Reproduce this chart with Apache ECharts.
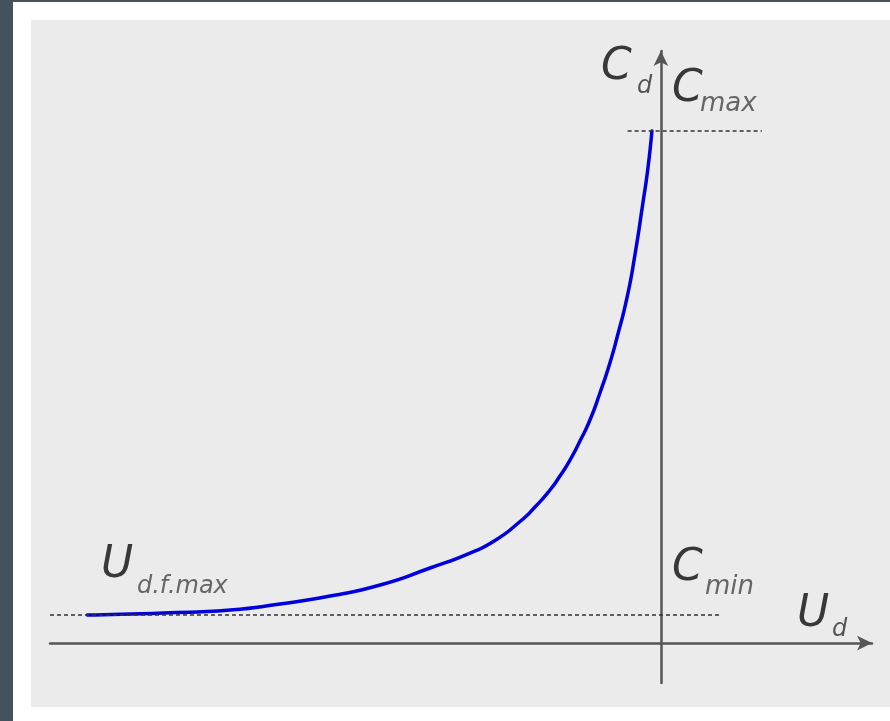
<!DOCTYPE html>
<html>
<head>
<meta charset="utf-8">
<script src="https://cdn.jsdelivr.net/npm/echarts@6/dist/echarts.min.js"></script>
<style>
  html, body { margin: 0; padding: 0; width: 890px; height: 721px; overflow: hidden; background: #44525d; }
  #sheet { position: absolute; left: 13px; top: 2px; width: 877px; height: 719px; background: #ffffff; }
  #panel { position: absolute; left: 31px; top: 20px; width: 859px; height: 687px; background: #ebebeb; }
  #chart { position: absolute; left: 0; top: 0; width: 890px; height: 721px; }
</style>
</head>
<body>
<div id="sheet"></div>
<div id="panel"></div>
<div id="chart"></div>
<script>
// Varactor capacitance C_d versus diode voltage U_d (arbitrary units)
const voltage = [-10.0, -8.676, -7.509, -6.638, -5.767, -4.895, -4.024, -3.328, -2.892, -2.456,
                 -2.195, -1.934, -1.760, -1.585, -1.411, -1.237, -1.063, -0.889, -0.749, -0.592,
                 -0.453, -0.314, -0.226, -0.157];
const capacitance = [5.47, 5.86, 6.45, 7.62, 9.18, 11.33, 14.65, 17.58, 20.02, 23.73,
                     26.56, 29.88, 32.62, 35.74, 39.45, 43.55, 48.83, 54.69, 60.35, 67.38,
                     75.78, 85.94, 92.77, 100.0];

// Reference levels
const cMax = 100;
const cMin = 5.47;
const uDfMax = -10.0;

const points = voltage.map((u, i) => [u, capacitance[i]]);

const axisGray = '#555555';
const dashGray = '#333333';
const font = '"DejaVu Sans", sans-serif';

function letter(text, x, y, size, color) {
  return {
    type: 'text',
    x: x, y: y,
    silent: true,
    style: {
      text: text,
      fontFamily: font,
      fontStyle: 'italic',
      fontSize: size,
      fill: color,
      align: 'left',
      verticalAlign: 'middle'
    }
  };
}

const chart = echarts.init(document.getElementById('chart'), null, { renderer: 'canvas' });
chart.setOption({
  animation: false,
  backgroundColor: 'transparent',
  grid: { left: 50, right: 18, top: 51, bottom: 38, containLabel: false },
  xAxis: {
    type: 'value',
    min: -10.65, max: 3.68,
    axisLine: {
      onZero: true,
      symbol: ['none', 'arrow'],
      symbolSize: [11, 15],
      lineStyle: { color: axisGray, width: 2.5 }
    },
    axisTick: { show: false },
    axisLabel: { show: false },
    splitLine: { show: false }
  },
  yAxis: {
    type: 'value',
    min: -7.8, max: 115.6,
    axisLine: {
      show: true,
      onZero: true,
      symbol: ['none', 'arrow'],
      symbolSize: [11, 15],
      lineStyle: { color: axisGray, width: 2.5 }
    },
    axisTick: { show: false },
    axisLabel: { show: false },
    splitLine: { show: false }
  },
  series: [{
    type: 'line',
    data: points,
    smooth: 0.6,
    showSymbol: false,
    lineStyle: { color: '#0000dd', width: 3.5, join: 'round', cap: 'round' },
    clip: false,
    z: 3,
    markLine: {
      silent: true,
      symbol: ['none', 'none'],
      label: { show: false },
      animation: false,
      data: [
        [{ coord: [-0.58, cMax], lineStyle: { type: [4, 3], color: dashGray, width: 1.7 } },
         { coord: [1.76, cMax] }],
        [{ coord: [-10.65, cMin], lineStyle: { type: [4, 3], color: dashGray, width: 1.7 } },
         { coord: [1.03, cMin] }],
        [{ coord: [uDfMax, 24.4], lineStyle: { type: [2, 4.5], color: dashGray, width: 1.9 } },
         { coord: [uDfMax, -8.2] }]
      ]
    }
  }],
  graphic: [
    letter('C', 601, 68, 44, '#383838'),
    letter('d', 637, 87, 24, '#555555'),
    letter('C', 672, 90, 44, '#383838'),
    letter('max', 700, 104, 26, '#666666'),
    letter('U', 101, 566, 44, '#383838'),
    letter('d.f.max', 137, 587, 24, '#666666'),
    letter('C', 672, 569, 44, '#383838'),
    letter('min', 705, 587, 26, '#666666'),
    letter('U', 797, 615, 44, '#383838'),
    letter('d', 832, 630, 24, '#555555')
  ]
});
</script>
</body>
</html>
